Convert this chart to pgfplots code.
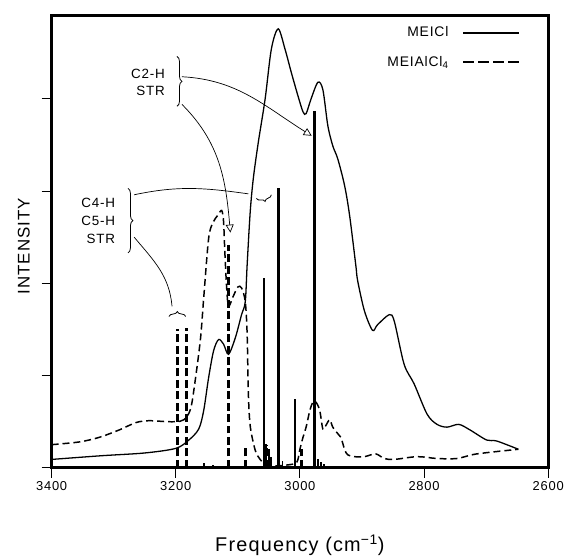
\documentclass[border=0pt]{standalone}
\usepackage{fontspec}
\setmainfont[LetterSpace=6]{Liberation Sans}
\usepackage{pgfplots}
\pgfplotsset{compat=1.18}
\usetikzlibrary{arrows.meta,decorations.pathreplacing}

\begin{document}
\begin{tikzpicture}
\begin{axis}[
    scale only axis,
    width=500pt, height=455pt,
    xmin=2600, xmax=3400, x dir=reverse,
    ymin=0, ymax=4.9,
    xtick={2600,2800,3000,3200,3400},
    ytick={0,1,2,3,4}, yticklabels={},
    tick pos=left, tick align=outside,
    major tick length=10pt,
    every tick/.style={black, line width=1pt},
    axis line style={line width=2.8pt},
    /pgf/number format/assume math mode=true,
    /pgf/number format/1000 sep={},
    ticklabel style={font=\fontsize{13}{13}\selectfont},
    xlabel={Frequency (cm\textsuperscript{\char"2212 1})},
    xlabel style={at={(axis description cs:0.5,0)}, anchor=center, yshift=-78pt,
                  font=\fontsize{20}{20}\selectfont},
    ylabel={INTENSITY},
    ylabel style={at={(axis description cs:-0.056,0.49)}, anchor=center,
                  font=\fontsize{17}{17}\selectfont},
    legend style={at={(axis description cs:0.95,0.985)}, anchor=north east,
                  draw=none, fill=none, font=\fontsize{14}{14}\selectfont,
                  row sep=14pt, column sep=12pt},
    legend plot pos=right,
    legend cell align=right,
    legend image code/.code={\draw[#1, line width=2.2pt] (0pt,0pt) -- (56pt,0pt);},
]

% MEICl spectrum
\addplot[black, line width=1.3pt, smooth, tension=0.5] coordinates {
    (3400,0.09) (3320,0.13) (3250,0.16) (3200,0.21) (3179,0.30) (3163,0.42)
    (3155,0.62) (3147,0.98) (3139,1.27) (3131,1.39) (3123,1.34) (3115,1.23)
    (3104,1.41) (3094,1.66) (3088,1.80) (3085,2.20) (3080,2.78) (3075,3.14)
    (3067,3.53) (3056,4.00) (3046,4.54) (3035,4.76) (3024,4.54) (3014,4.29)
    (3003,4.03) (2995,3.86) (2990,3.84) (2982,4.00) (2971,4.18) (2963,4.10)
    (2955,3.71) (2947,3.49) (2939,3.35) (2928,3.06) (2920,2.74) (2910,2.20)
    (2907,2.03) (2896,1.70) (2883,1.49) (2875,1.55) (2856,1.66) (2848,1.59)
    (2832,1.12) (2816,0.91) (2795,0.58) (2779,0.47) (2763,0.44) (2744,0.47)
    (2726,0.41) (2699,0.30) (2683,0.29) (2648,0.20)
};
\addlegendentry{MEICl}

% MEIAlCl4 spectrum
\addplot[black, line width=1.5pt, dash pattern=on 7pt off 4pt, smooth, tension=0.5,
         legend image post style={dash pattern=on 11pt off 4pt}] coordinates {
    (3400,0.25) (3355,0.28) (3323,0.33) (3291,0.41) (3264,0.49) (3243,0.51)
    (3216,0.50) (3200,0.50) (3187,0.52) (3176,0.64) (3168,0.98) (3160,1.41)
    (3155,1.84) (3147,2.49) (3140,2.66) (3132,2.74) (3126,2.79) (3123,2.67)
    (3121,2.35) (3118,1.95) (3115,1.75) (3108,1.85) (3100,1.96) (3094,1.95)
    (3088,1.80) (3085,1.45) (3083,0.80) (3080,0.45) (3072,0.19) (3064,0.09)
    (3056,0.04) (3040,0.02) (3020,0.03) (3005,0.06) (3000,0.20) (2995,0.33)
    (2990,0.44) (2984,0.62) (2979,0.71) (2974,0.71) (2968,0.62) (2963,0.42)
    (2958,0.46) (2952,0.52) (2947,0.44) (2939,0.37) (2934,0.33) (2928,0.20)
    (2923,0.14) (2912,0.12) (2896,0.12) (2878,0.15) (2864,0.10) (2848,0.09)
    (2811,0.12) (2779,0.10) (2747,0.10) (2715,0.15) (2648,0.20)
};
\addlegendentry{MEIAlCl\textsubscript{4}}

% MEICl computed lines
\addplot[ycomb, no markers, black, line width=2.8pt, forget plot] coordinates {
    (3058,2.06) (3034,3.03) (3008,0.74) (2976,3.87)
};
\addplot[ycomb, no markers, black, line width=1.8pt, forget plot] coordinates {
    (3155,0.05) (3140,0.03) (3054,0.26) (3050,0.20) (3046,0.12) (3028,0.07)
    (2971,0.10) (2966,0.06) (2961,0.04)
};

% MEIAlCl4 computed lines
\addplot[ycomb, no markers, black, line width=3pt, dash pattern=on 8pt off 3.5pt, forget plot] coordinates {
    (3197,1.50) (3182,1.52) (3115,2.41) (3087,0.23) (3053,0.25) (2998,0.20)
};

% annotations
\node[anchor=east, align=right, font=\fontsize{13.5}{17}\selectfont]
    at (axis cs:3212,4.18) {C2-H\\STR};
\draw[line width=0.8pt, decorate, decoration={brace, amplitude=5pt}]
    (axis cs:3198,4.46) -- (axis cs:3198,3.92);
\draw[line width=0.7pt, -{Triangle[open, length=8pt, width=8pt]}]
    (axis cs:3190,4.24) to[out=-3, in=148] (axis cs:2981,3.60);
\draw[line width=0.7pt, -{Triangle[open, length=8pt, width=8pt]}]
    (axis cs:3190,3.94) to[out=-45, in=95] (axis cs:3112,2.55);

\node[anchor=east, align=right, font=\fontsize{13.5}{18}\selectfont]
    at (axis cs:3292,2.68) {C4-H\\C5-H\\STR};
\draw[line width=0.8pt, decorate, decoration={brace, amplitude=5pt}]
    (axis cs:3277,3.03) -- (axis cs:3277,2.33);
\draw[line width=0.7pt]
    (axis cs:3267,2.96) to[out=12, in=172] (axis cs:3083,2.97);
\draw[line width=0.8pt, decorate, decoration={brace, amplitude=5pt}]
    (axis cs:3046,2.96) -- (axis cs:3070,2.92);
\draw[line width=0.7pt]
    (axis cs:3267,2.50) to[out=-50, in=95] (axis cs:3206,1.75);
\draw[line width=0.8pt, decorate, decoration={brace, amplitude=5pt}]
    (axis cs:3211,1.64) -- (axis cs:3184,1.64);

\end{axis}
\path ([shift={(-52pt,-90pt)}]current axis.south west)
    rectangle ([shift={(15pt,16pt)}]current axis.north east);
\end{tikzpicture}
\end{document}
